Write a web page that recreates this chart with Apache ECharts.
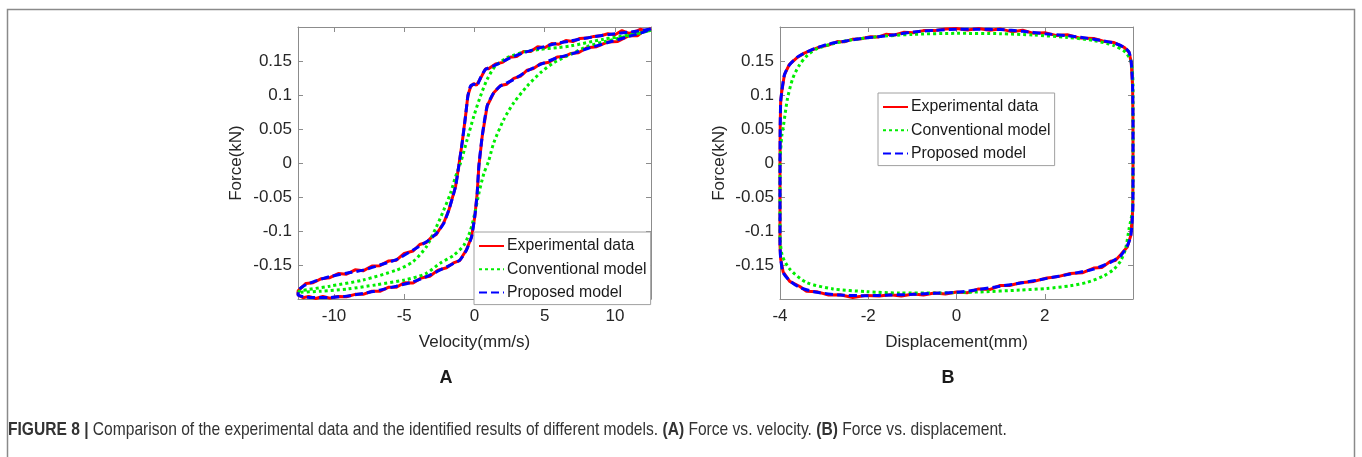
<!DOCTYPE html>
<html>
<head>
<meta charset="utf-8">
<script src="https://cdn.jsdelivr.net/npm/echarts@6/dist/echarts.min.js"></script>
<style>
html,body{margin:0;padding:0;background:#fff;}
#chart{width:1362px;height:457px;}
</style>
</head>
<body>
<div id="chart"></div>
<script>
// ---------- DATA ----------
const seriesNames = ['Experimental data', 'Conventional model', 'Proposed model'];
const forceTicks = [-0.15, -0.1, -0.05, 0, 0.05, 0.1, 0.15];
const velocityTicks = [-10, -5, 0, 5, 10];
const displacementTicks = [-4, -2, 0, 2];

// Panel A: force (kN) vs velocity (mm/s)
const expA = [
[12.56,0.1975],[12.2,0.1940],[11.8,0.1965],[11.5,0.1935],[11.0,0.1905],[10.5,0.1945],[10.0,0.1885],[9.5,0.1900],[9.0,0.1870],[8.5,0.1860],[8.0,0.1835],[7.5,0.1830],[7.0,0.1785],[6.5,0.1800],[6.0,0.1745],[5.5,0.1755],[5.0,0.1695],[4.5,0.1710],[4.0,0.1640],[3.5,0.1640],[3.0,0.1565],[2.5,0.1555],[2.0,0.1480],[1.5,0.1455],[1.0,0.1385],[0.78,0.1385],[0.43,0.1245],[0.14,0.1145],[-0.05,0.1170],[-0.28,0.1120],[-0.47,0.0995],[-0.64,0.0690],[-0.88,0.0300],[-1.12,-0.0040],[-1.35,-0.0340],[-1.83,-0.0690],[-2.19,-0.0870],[-2.71,-0.1040],[-3.0,-0.1070],[-3.42,-0.1160],[-3.9,-0.1190],[-4.37,-0.1285],[-5.0,-0.1320],[-5.56,-0.1420],[-6.1,-0.1430],[-6.74,-0.1500],[-7.3,-0.1505],[-7.93,-0.1575],[-8.5,-0.1560],[-9.12,-0.1625],[-9.7,-0.1615],[-10.3,-0.1675],[-10.9,-0.1690],[-11.49,-0.1750],[-12.0,-0.1760],[-12.56,-0.1870],
[-12.56,-0.1930],[-12.2,-0.1970],[-11.8,-0.1950],[-11.3,-0.1980],[-10.8,-0.1950],[-10.3,-0.1975],[-9.7,-0.1950],[-9.12,-0.1955],[-8.5,-0.1920],[-7.93,-0.1920],[-7.3,-0.1875],[-6.74,-0.1875],[-6.1,-0.1815],[-5.56,-0.1815],[-5.0,-0.1750],[-4.37,-0.1755],[-3.8,-0.1680],[-3.18,-0.1655],[-2.6,-0.1565],[-1.99,-0.1530],[-1.5,-0.1460],[-1.05,-0.1425],[-0.57,-0.1265],[-0.21,-0.1080],[0.02,-0.0780],[0.19,-0.0440],[0.31,-0.0040],[0.55,0.0400],[0.9,0.0840],[1.37,0.1035],[1.85,0.1140],[2.3,0.1160],[2.8,0.1245],[3.3,0.1280],[3.75,0.1365],[4.2,0.1390],[4.70,0.1460],[5.3,0.1480],[5.89,0.1560],[6.4,0.1565],[6.84,0.1610],[7.4,0.1620],[8.0,0.1695],[8.7,0.1710],[9.5,0.1780],[10.2,0.1785],[11.0,0.1870],[11.6,0.1870],[12.0,0.1935],[12.56,0.1975]
];
const convA = [
[12.56,0.195],[11.0,0.188],[9.2,0.182],[6.84,0.172],[5.89,0.1695],[4.70,0.1671],[3.51,0.1632],[2.33,0.1548],[1.49,0.1427],[0.90,0.123],[0.43,0.0987],[-0.05,0.069],[-0.52,0.035],[-1.0,0.0],[-1.35,-0.0196],[-1.71,-0.044],[-2.19,-0.0685],[-2.71,-0.093],[-3.42,-0.122],[-4.37,-0.144],[-5.56,-0.1565],[-7.93,-0.171],[-10.3,-0.180],[-12.44,-0.187],[-12.56,-0.189],
[-11.0,-0.1875],[-9.0,-0.184],[-7.0,-0.178],[-5.0,-0.171],[-3.5,-0.162],[-2.42,-0.146],[-1.47,-0.1345],[-0.76,-0.12],[-0.28,-0.0978],[0.07,-0.0685],[0.31,-0.044],[0.67,-0.0147],[1.0,0.003],[1.37,0.030],[2.09,0.0645],[2.8,0.0889],[3.75,0.1133],[4.70,0.1328],[5.65,0.1475],[6.84,0.1597],[8.0,0.171],[9.2,0.178],[11.0,0.187],[12.56,0.195]
];
const propA = [
[12.56,0.197],[11.5,0.1935],[10.0,0.190],[8.5,0.1855],[6.84,0.1793],[5.89,0.176],[4.70,0.1695],[3.51,0.1622],[2.33,0.1525],[1.37,0.1427],[0.78,0.1378],[0.43,0.1255],[0.14,0.1133],[-0.05,0.1158],[-0.28,0.1133],[-0.47,0.0987],[-0.64,0.069],[-0.88,0.030],[-1.12,-0.004],[-1.35,-0.034],[-1.83,-0.0685],[-2.19,-0.088],[-2.71,-0.1027],[-3.42,-0.115],[-4.37,-0.127],[-5.56,-0.141],[-6.74,-0.149],[-7.93,-0.1565],[-9.12,-0.161],[-10.3,-0.166],[-11.49,-0.1736],[-12.2,-0.180],[-12.56,-0.187],
[-12.56,-0.193],[-12.0,-0.196],[-11.49,-0.1965],[-10.3,-0.1965],[-9.12,-0.1946],[-7.93,-0.1906],[-6.74,-0.1858],[-5.56,-0.180],[-4.37,-0.1736],[-3.18,-0.1638],[-1.99,-0.1516],[-1.05,-0.1418],[-0.57,-0.127],[-0.21,-0.1076],[0.02,-0.078],[0.19,-0.044],[0.31,-0.004],[0.55,0.040],[0.9,0.084],[1.37,0.1035],[1.85,0.1133],[2.8,0.123],[3.75,0.1353],[4.70,0.145],[5.89,0.1548],[6.84,0.1597],[8.0,0.168],[9.5,0.177],[11.0,0.186],[12.0,0.192],[12.56,0.197]
];

// Panel B: force (kN) vs displacement (mm)
const expB = [
[-4.0,-0.120],[-4.0,0.0],[-3.995,0.056],[-3.985,0.090],[-3.96,0.105],[-3.90,0.1300],[-3.79,0.1445],[-3.60,0.1555],[-3.45,0.1615],[-3.30,0.1655],[-3.1,0.1705],[-2.92,0.1730],[-2.7,0.1785],[-2.54,0.1780],[-2.35,0.1820],[-2.16,0.1825],[-1.95,0.1855],[-1.78,0.1850],[-1.6,0.1890],[-1.40,0.1880],[-1.2,0.1920],[-0.98,0.1915],[-0.75,0.1945],[-0.5,0.1945],[-0.25,0.1970],[0,0.1975],[0.25,0.1955],[0.5,0.1975],[0.75,0.1950],[0.99,0.1970],[1.25,0.1930],[1.5,0.1950],[1.75,0.1905],[2.0,0.1915],[2.25,0.1875],[2.51,0.1885],[2.8,0.1835],[3.11,0.1830],[3.35,0.1785],[3.57,0.1770],[3.80,0.1700],[3.91,0.1630],[3.96,0.1480],[3.99,0.1140],[4.0,0.06],[4.0,0],[3.995,-0.067],[3.95,-0.106],[3.87,-0.1225],[3.72,-0.1340],[3.6,-0.1425],[3.49,-0.1435],[3.3,-0.1525],[3.11,-0.1535],[2.85,-0.1605],[2.58,-0.1615],[2.3,-0.1660],[2.05,-0.1680],[1.75,-0.1730],[1.45,-0.1750],[1.2,-0.1790],[0.99,-0.1790],[0.75,-0.1850],[0.5,-0.1840],[0.25,-0.1895],[0,-0.1885],[-0.25,-0.1915],[-0.5,-0.1900],[-0.75,-0.1930],[-0.98,-0.1915],[-1.25,-0.1945],[-1.5,-0.1925],[-1.75,-0.1945],[-2.04,-0.1935],[-2.35,-0.1965],[-2.64,-0.1925],[-2.9,-0.1930],[-3.17,-0.1880],[-3.4,-0.1875],[-3.55,-0.1805],[-3.78,-0.1730],[-3.93,-0.1590],[-3.985,-0.1400],[-4.0,-0.120]
];
const convB = [
[-4.0,-0.11],[-4.0,0.0],[-3.96,0.040],[-3.92,0.056],[-3.83,0.095],[-3.71,0.1246],[-3.56,0.144],[-3.37,0.159],[-3.14,0.1686],[-2.76,0.176],[-2.39,0.1808],[-1.78,0.1856],[-1.0,0.189],[0,0.1905],[0.99,0.190],[1.75,0.188],[2.51,0.1845],[3.11,0.180],[3.57,0.1725],[3.83,0.163],[3.96,0.148],[4.0,0.114],[4.0,0],[3.99,-0.067],[3.91,-0.0963],[3.83,-0.1256],[3.72,-0.143],[3.57,-0.155],[3.34,-0.165],[2.96,-0.1745],[2.58,-0.1795],[2.05,-0.1833],[1.45,-0.1857],[0.5,-0.1885],[-0.5,-0.190],[-1.28,-0.190],[-2.04,-0.188],[-2.80,-0.184],[-3.40,-0.1745],[-3.78,-0.155],[-3.95,-0.135],[-4.0,-0.11]
];
const propB = [
[-4.0,-0.120],[-4.0,0.0],[-3.995,0.056],[-3.985,0.090],[-3.96,0.105],[-3.90,0.1295],[-3.79,0.144],[-3.60,0.156],[-3.30,0.166],[-2.92,0.1745],[-2.54,0.179],[-2.16,0.183],[-1.78,0.1856],[-1.40,0.1885],[-0.98,0.1925],[-0.5,0.195],[0,0.1965],[0.5,0.1965],[0.99,0.196],[1.5,0.1935],[2.0,0.190],[2.51,0.187],[3.11,0.182],[3.57,0.1764],[3.80,0.170],[3.91,0.163],[3.96,0.148],[3.99,0.114],[4.0,0.06],[4.0,0],[3.995,-0.067],[3.95,-0.106],[3.87,-0.121],[3.72,-0.1355],[3.49,-0.145],[3.11,-0.155],[2.58,-0.1623],[2.05,-0.1686],[1.45,-0.1755],[0.99,-0.180],[0.5,-0.185],[0,-0.189],[-0.5,-0.1905],[-0.98,-0.192],[-1.5,-0.193],[-2.04,-0.194],[-2.64,-0.193],[-3.17,-0.189],[-3.55,-0.182],[-3.78,-0.172],[-3.93,-0.160],[-3.985,-0.140],[-4.0,-0.120]
];

// ---------- CHART ----------
const FONT = 'Liberation Sans, Arial, sans-serif';
const AXIS_GRAY = '#8c8c8c';
const LABEL_COLOR = '#262626';
const yMin = -0.1988, yMax = 0.1998;

function fmt(v){ return String(Math.round(v*1000)/1000); }

function xAxes(gridIndex, min, max, ticks, name){
  return [{
    gridIndex, type:'value', position:'bottom', min, max,
    name, nameLocation:'middle', nameGap:35,
    nameTextStyle:{fontFamily:FONT, fontSize:17, color:LABEL_COLOR},
    axisLine:{show:true, onZero:false, lineStyle:{color:AXIS_GRAY, width:1}},
    axisTick:{show:true, inside:true, length:5, customValues:ticks, lineStyle:{color:AXIS_GRAY}},
    axisLabel:{show:true, customValues:ticks, margin:9, fontFamily:FONT, fontSize:17, color:LABEL_COLOR, formatter:fmt},
    splitLine:{show:false}
  },{
    gridIndex, type:'value', position:'top', min, max,
    axisLine:{show:true, onZero:false, lineStyle:{color:AXIS_GRAY, width:1}},
    axisTick:{show:true, inside:true, length:5, customValues:ticks, lineStyle:{color:AXIS_GRAY}},
    axisLabel:{show:false}, splitLine:{show:false}
  }];
}
function yAxes(gridIndex, nameGap){
  return [{
    gridIndex, type:'value', position:'left', min:yMin, max:yMax,
    name:'Force(kN)', nameLocation:'middle', nameGap,
    nameTextStyle:{fontFamily:FONT, fontSize:17, color:LABEL_COLOR},
    axisLine:{show:true, onZero:false, lineStyle:{color:AXIS_GRAY, width:1}},
    axisTick:{show:true, inside:true, length:5, customValues:forceTicks, lineStyle:{color:AXIS_GRAY}},
    axisLabel:{show:true, customValues:forceTicks, margin:6, fontFamily:FONT, fontSize:17, color:LABEL_COLOR, formatter:fmt},
    splitLine:{show:false}
  },{
    gridIndex, type:'value', position:'right', min:yMin, max:yMax,
    axisLine:{show:true, onZero:false, lineStyle:{color:AXIS_GRAY, width:1}},
    axisTick:{show:true, inside:true, length:5, customValues:forceTicks, lineStyle:{color:AXIS_GRAY}},
    axisLabel:{show:false}, splitLine:{show:false}
  }];
}

function seriesFor(xi, yi, exp, conv, prop){
  return [
    {name:seriesNames[0], type:'line', xAxisIndex:xi, yAxisIndex:yi, data:exp, symbol:'none', showSymbol:false,
     lineStyle:{color:'#ff0000', width:3, type:'solid'}, itemStyle:{color:'#ff0000'}, z:2},
    {name:seriesNames[1], type:'line', xAxisIndex:xi, yAxisIndex:yi, data:conv, symbol:'none', showSymbol:false, smooth:0.25,
     lineStyle:{color:'#00ee00', width:3, type:[3,3]}, itemStyle:{color:'#00ee00'}, z:3},
    {name:seriesNames[2], type:'line', xAxisIndex:xi, yAxisIndex:yi, data:prop, symbol:'none', showSymbol:false, smooth:0.2,
     lineStyle:{color:'#0000ff', width:3, type:[8,4]}, itemStyle:{color:'#0000ff'}, z:4}
  ];
}

function legendAt(left, top){
  return {
    data:seriesNames, orient:'vertical', left, top,
    itemWidth:25, itemHeight:14, itemGap:7.3,
    padding:[6,4,4,4],
    backgroundColor:'#ffffff', borderColor:'#a0a0a0', borderWidth:1, borderRadius:0,
    itemStyle:{opacity:0, borderWidth:0},
    textStyle:{fontFamily:FONT, fontSize:15.8, color:'#1a1a1a', padding:[0,0,0,-2]},
    selectedMode:false
  };
}

const chart = echarts.init(document.getElementById('chart'), null, {renderer:'canvas'});
chart.setOption({
  animation:false,
  backgroundColor:'#ffffff',
  grid:[
    {left:298, top:27, width:353, height:272},
    {left:780, top:27, width:353, height:272}
  ],
  xAxis:[
    ...xAxes(0, -12.566, 12.566, velocityTicks, 'Velocity(mm/s)'),
    ...xAxes(1, -4, 4, displacementTicks, 'Displacement(mm)')
  ],
  yAxis:[
    ...yAxes(0, 53),
    ...yAxes(1, 52)
  ],
  legend:[ legendAt(474, 232), legendAt(878, 93) ],
  series:[
    ...seriesFor(0, 0, expA, convA, propA),
    ...seriesFor(2, 2, expB, convB, propB)
  ],
  graphic:[
    {type:'rect', silent:true, shape:{x:7.5, y:9.5, width:1347, height:470},
     style:{fill:'none', stroke:'#8a8a8a', lineWidth:1.5}},
    {type:'text', silent:true, x:446, y:378,
     style:{text:'A', fontFamily:FONT, fontSize:18, fontWeight:'bold', fill:'#1a1a1a', align:'center', verticalAlign:'middle'}},
    {type:'text', silent:true, x:948, y:378,
     style:{text:'B', fontFamily:FONT, fontSize:18, fontWeight:'bold', fill:'#1a1a1a', align:'center', verticalAlign:'middle'}},
    {type:'text', silent:true, x:8, y:430, scaleX:0.82,
     style:{text:'{b|FIGURE 8 |} Comparison of the experimental data and the identified results of different models. {b|(A)} Force vs. velocity. {b|(B)} Force vs. displacement.',
       fontFamily:FONT, fontSize:19, fill:'#333333', verticalAlign:'middle',
       rich:{b:{fontFamily:FONT, fontSize:19, fontWeight:'bold', fill:'#333333'}}}}
  ]
});
</script>
</body>
</html>
